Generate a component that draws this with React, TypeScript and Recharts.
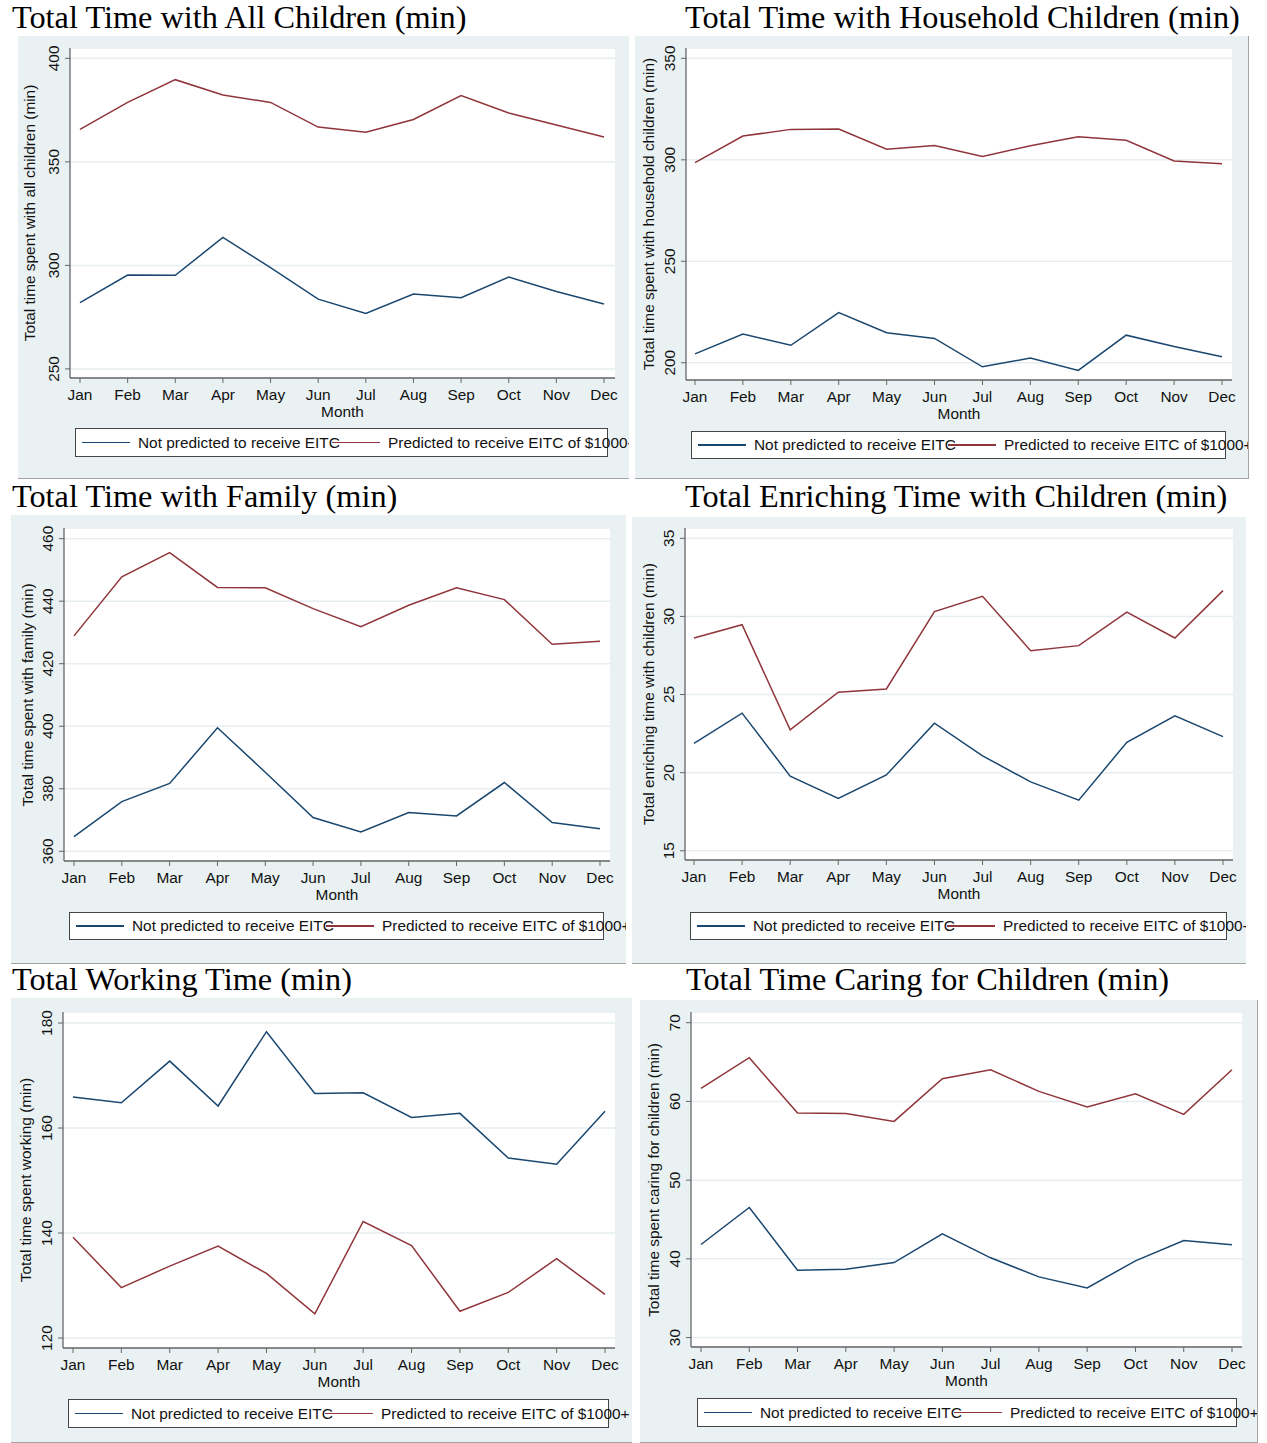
import React from 'react'
import { LineChart, Line, XAxis, YAxis, CartesianGrid } from 'recharts'

const months = ['Jan', 'Feb', 'Mar', 'Apr', 'May', 'Jun', 'Jul', 'Aug', 'Sep', 'Oct', 'Nov', 'Dec']
const seriesNames = ['Not predicted to receive EITC', 'Predicted to receive EITC of $1000+']

// values
const allChildrenNot = [282, 295.3, 295.2, 313.5, 298.9, 283.7, 276.8, 286.2, 284.4, 294.4, 287.4, 281.3]
const allChildrenEitc = [365.7, 378.7, 389.7, 382.3, 378.7, 366.8, 364.3, 370.5, 382, 373.6, 367.8, 362]

const householdNot = [204.4, 214.2, 208.6, 224.7, 214.8, 212, 198, 202.3, 196.2, 213.6, 208, 203]
const householdEitc = [298.6, 311.7, 315, 315.2, 305.2, 307, 301.7, 306.9, 311.4, 309.6, 299.4, 298.1]

const familyNot = [364.7, 375.9, 381.7, 399.5, 385.3, 370.8, 366.2, 372.4, 371.3, 382, 369.2, 367.2]
const familyEitc = [428.9, 447.8, 455.5, 444.4, 444.3, 437.6, 431.8, 438.7, 444.3, 440.5, 426.2, 427.2]

const enrichNot = [21.87, 23.81, 19.78, 18.35, 19.85, 23.17, 21.08, 19.41, 18.24, 21.94, 23.64, 22.31]
const enrichEitc = [28.62, 29.47, 22.74, 25.15, 25.36, 30.31, 31.29, 27.8, 28.13, 30.27, 28.62, 31.65]

const workNot = [165.9, 164.8, 172.75, 164.2, 178.35, 166.6, 166.7, 162, 162.8, 154.3, 153.1, 163.2]
const workEitc = [139.2, 129.6, 133.7, 137.5, 132.3, 124.6, 142.2, 137.6, 125.1, 128.7, 135.1, 128.3]

const caringNot = [41.82, 46.53, 38.56, 38.69, 39.53, 43.18, 40.13, 37.71, 36.31, 39.75, 42.33, 41.78]
const caringEitc = [61.65, 65.55, 58.52, 58.47, 57.46, 62.88, 64.03, 61.27, 59.28, 60.97, 58.35, 64.03]

const NAVY = '#1a476f'
const MAROON = '#90353b'
const GREY = '#eaf1f3'
const GRID = '#e6eef1'
const AXIS = '#666'
const SANS = '"Liberation Sans", Arial, Helvetica, sans-serif'
const SERIF = '"Liberation Serif", "Times New Roman", serif'
const FS = 15.4

type Rect = { x: number; y: number; w: number; h: number }
type PanelCfg = {
  title: string
  titleX: number
  titleBase: number
  yTitle: string
  yTitleX: number
  grey: Rect
  rightBorder?: boolean
  plot: { x0: number; y0: number; x1: number; y1: number }
  pad: { left: number; right: number }
  domain: [number, number]
  ticks: number[]
  legend: Rect
  not: number[]
  eitc: number[]
}

const panels: PanelCfg[] = [
  {
    title: 'Total Time with All Children (min)', titleX: 12, titleBase: 28,
    yTitle: 'Total time spent with all children (min)', yTitleX: 29,
    grey: { x: 18, y: 36, w: 611, h: 443 },
    plot: { x0: 70, y0: 48, x1: 615, y1: 378 }, pad: { left: 10, right: 11 },
    domain: [245.6, 405], ticks: [250, 300, 350, 400],
    legend: { x: 75, y: 428, w: 533, h: 29 },
    not: allChildrenNot, eitc: allChildrenEitc,
  },
  {
    title: 'Total Time with Household Children (min)', titleX: 685, titleBase: 28,
    yTitle: 'Total time spent with household children (min)', yTitleX: 648,
    grey: { x: 635, y: 36, w: 614, h: 443 }, rightBorder: true,
    plot: { x0: 686, y0: 48, x1: 1232, y1: 380 }, pad: { left: 9, right: 10 },
    domain: [191.5, 355.1], ticks: [200, 250, 300, 350],
    legend: { x: 691, y: 431, w: 535, h: 28 },
    not: householdNot, eitc: householdEitc,
  },
  {
    title: 'Total Time with Family (min)', titleX: 12, titleBase: 507,
    yTitle: 'Total time spent with family (min)', yTitleX: 27,
    grey: { x: 11, y: 515, w: 615, h: 449 },
    plot: { x0: 64, y0: 528, x1: 610, y1: 861 }, pad: { left: 10, right: 10 },
    domain: [356.9, 463.4], ticks: [360, 380, 400, 420, 440, 460],
    legend: { x: 69, y: 912, w: 535, h: 28 },
    not: familyNot, eitc: familyEitc,
  },
  {
    title: 'Total Enriching Time with Children (min)', titleX: 685, titleBase: 507,
    yTitle: 'Total enriching time with children (min)', yTitleX: 648,
    grey: { x: 632, y: 517, w: 614, h: 447 },
    plot: { x0: 685, y0: 528, x1: 1233, y1: 860 }, pad: { left: 9, right: 10 },
    domain: [14.41, 35.66], ticks: [15, 20, 25, 30, 35],
    legend: { x: 690, y: 912, w: 537, h: 28 },
    not: enrichNot, eitc: enrichEitc,
  },
  {
    title: 'Total Working Time (min)', titleX: 12, titleBase: 990,
    yTitle: 'Total time spent working (min)', yTitleX: 25,
    grey: { x: 11, y: 998, w: 621, h: 445 },
    plot: { x0: 63, y0: 1012, x1: 615, y1: 1348 }, pad: { left: 10, right: 10 },
    domain: [118.1, 182.1], ticks: [120, 140, 160, 180],
    legend: { x: 68, y: 1399, w: 541, h: 29 },
    not: workNot, eitc: workEitc,
  },
  {
    title: 'Total Time Caring for Children (min)', titleX: 686, titleBase: 990,
    yTitle: 'Total time spent caring for children (min)', yTitleX: 653,
    grey: { x: 640, y: 1000, w: 618, h: 443 }, rightBorder: true,
    plot: { x0: 691, y0: 1012, x1: 1242, y1: 1347 }, pad: { left: 10, right: 10 },
    domain: [28.8, 71.36], ticks: [30, 40, 50, 60, 70],
    legend: { x: 697, y: 1398, w: 540, h: 29 },
    not: caringNot, eitc: caringEitc,
  },
]

const VTick = (props: any) => {
  const { x, y, payload } = props
  return (
    <text x={x} y={y} transform={`rotate(-90 ${x} ${y})`} textAnchor="middle"
      fontSize={FS} fontFamily={SANS} fill="#111">
      {payload.value}
    </text>
  )
}

const Panel: React.FC<{ p: PanelCfg }> = ({ p }) => {
  const rows = months.map((m, i) => ({ month: m, not: p.not[i], eitc: p.eitc[i] }))
  const g = p.grey
  const yAxisW = p.plot.x0 - g.x
  const xAxisH = g.y + g.h - p.plot.y1
  const margin = { left: 0, top: p.plot.y0 - g.y, right: g.x + g.w - p.plot.x1, bottom: 0 }
  const keyColors = [NAVY, MAROON]
  return (
    <>
      <div style={{
        position: 'absolute', left: p.titleX, top: p.titleBase - 27, fontFamily: SERIF,
        fontSize: 32.3, lineHeight: '32.5px', whiteSpace: 'nowrap', color: '#000',
      }}>{p.title}</div>
      <div style={{
        position: 'absolute', left: g.x, top: g.y, width: g.w, height: g.h, background: GREY,
        overflow: 'hidden', boxSizing: 'border-box', borderBottom: '1px solid #a3a3a3',
        borderRight: p.rightBorder ? '1px solid #a3a3a3' : undefined,
      }}>
        <LineChart width={g.w} height={g.h} data={rows} margin={margin}>
          <CartesianGrid vertical={false} fill="#fff" fillOpacity={1} stroke={GRID} strokeWidth={1.5} />
          <XAxis dataKey="month" interval={0} height={xAxisH} padding={p.pad}
            axisLine={{ stroke: AXIS, strokeWidth: 1.3 }} tickLine={{ stroke: AXIS }} tickSize={5} tickMargin={6}
            tick={{ fontSize: FS, fontFamily: SANS, fill: '#111' }}
            label={{ value: 'Month', position: 'insideTop', offset: 28, fontSize: FS, fontFamily: SANS, fill: '#111' }} />
          <YAxis type="number" width={yAxisW} domain={p.domain} ticks={p.ticks} allowDataOverflow
            axisLine={{ stroke: AXIS, strokeWidth: 1.3 }} tickLine={{ stroke: AXIS }} tickSize={5} tickMargin={6.3}
            tick={<VTick />} />
          <Line dataKey="not" name={seriesNames[0]} stroke={NAVY} strokeWidth={1.5} dot={false} isAnimationActive={false} />
          <Line dataKey="eitc" name={seriesNames[1]} stroke={MAROON} strokeWidth={1.5} dot={false} isAnimationActive={false} />
        </LineChart>
        <div style={{
          position: 'absolute', left: p.yTitleX - g.x, top: (p.plot.y0 + p.plot.y1) / 2 - g.y,
          transform: 'translate(-50%, -50%) rotate(-90deg)', whiteSpace: 'nowrap',
          fontFamily: SANS, fontSize: FS, lineHeight: '15px', color: '#111',
        }}>{p.yTitle}</div>
        <div style={{
          position: 'absolute', left: p.legend.x - g.x, top: p.legend.y - g.y, width: p.legend.w,
          height: p.legend.h, boxSizing: 'border-box', border: '1px solid #444', background: '#fff',
        }} />
        {seriesNames.map((name, i) => {
          const bx = p.legend.x - g.x + 7 + i * 250
          const cy = p.legend.y - g.y + p.legend.h / 2
          return (
            <React.Fragment key={name}>
              <div style={{ position: 'absolute', left: bx, top: cy - 0.75, width: 48, height: 1.5, background: keyColors[i] }} />
              <div style={{
                position: 'absolute', left: bx + 56, top: cy - 9, height: 18, lineHeight: '18px',
                fontFamily: SANS, fontSize: FS, color: '#111', whiteSpace: 'nowrap',
              }}>{name}</div>
            </React.Fragment>
          )
        })}
      </div>
    </>
  )
}

export default function App() {
  return (
    <div style={{ position: 'absolute', left: 0, top: 0, width: 1267, height: 1443, background: '#fff', overflow: 'hidden' }}>
      {panels.map(p => <Panel key={p.title} p={p} />)}
    </div>
  )
}
